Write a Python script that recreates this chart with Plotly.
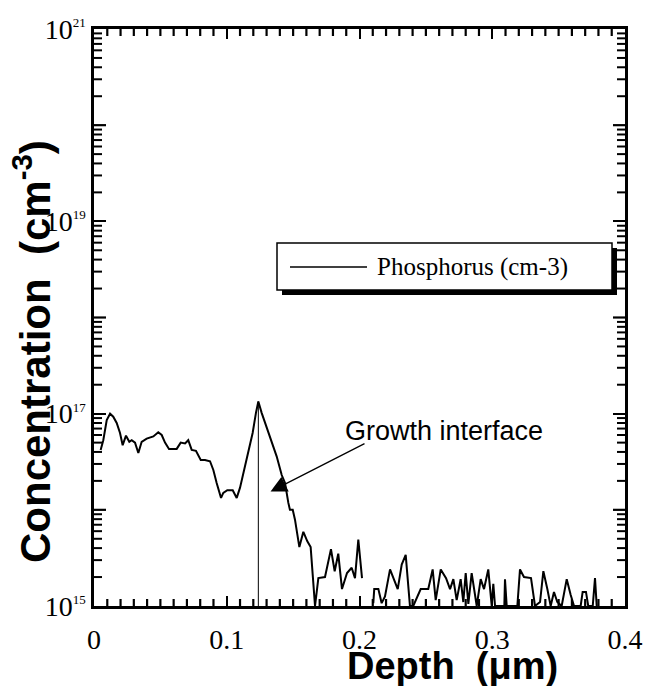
import numpy as np
import plotly.graph_objects as go

# ---------------- data ----------------
depth_um = [0.005, 0.007, 0.0096, 0.0121, 0.0145, 0.0171, 0.0196, 0.0216, 0.0241, 0.0266,
            0.0284, 0.0309, 0.0334, 0.0359, 0.0397, 0.0447, 0.0484, 0.0510, 0.0535, 0.0565,
            0.0623, 0.0653, 0.0686, 0.0710, 0.0736, 0.0768, 0.0804, 0.0836, 0.0874, 0.0899,
            0.0924, 0.0957, 0.0974, 0.1004, 0.1045, 0.1075, 0.1100, 0.1130, 0.1162, 0.1195,
            0.1220, 0.1238, 0.1263, 0.1301, 0.1339, 0.1376, 0.1414, 0.1439, 0.1464, 0.1476,
            0.1497, 0.1514, 0.1547, 0.1577, 0.1607, 0.1632, 0.1665, 0.1690, 0.1740, 0.1785,
            0.1813, 0.1840, 0.1868, 0.1906, 0.1941, 0.1966, 0.1991, 0.2019, 0.2060,
            0.2104, 0.2111, 0.2142, 0.2167, 0.2192, 0.2230, 0.2288, 0.2318, 0.2348, 0.2380,
            0.2405, 0.2461, 0.2518, 0.2551, 0.2574, 0.2612, 0.2652, 0.2682, 0.2707, 0.2732,
            0.2762, 0.2782, 0.2800, 0.2820, 0.2845, 0.2883, 0.2913, 0.2938, 0.2970, 0.2996,
            0.3008, 0.3021, 0.3091, 0.3096, 0.3109, 0.3189, 0.3209, 0.3239, 0.3292, 0.3322,
            0.3360, 0.3385, 0.3415, 0.3440, 0.3465, 0.3490, 0.3523, 0.3561, 0.3591, 0.3616,
            0.3666, 0.3681, 0.3706, 0.3723, 0.3757, 0.3774, 0.3787]
phosphorus_cm3 = [4.2e16, 5.3e16, 8.6e16, 1.0e17, 9.3e16, 8.0e16, 6.3e16, 4.7e16, 5.9e16, 5.1e16,
                  5.3e16, 5.0e16, 3.9e16, 5.1e16, 5.5e16, 5.8e16, 6.4e16, 6.0e16, 5.0e16, 4.3e16,
                  4.3e16, 5.0e16, 4.9e16, 5.3e16, 4.2e16, 4.1e16, 3.3e16, 3.3e16, 3.2e16, 2.6e16,
                  1.9e16, 1.33e16, 1.5e16, 1.6e16, 1.6e16, 1.33e16, 1.7e16, 2.6e16, 3.9e16, 6.3e16,
                  1.02e17, 1.34e17, 1.02e17, 7.3e16, 5.1e16, 3.6e16, 2.3e16, 1.9e16, 1.18e16, 1.0e16,
                  1.0e16, 7.9e15, 4.1e15, 5.9e15, 4.7e15, 4.1e15, 1.0e15, 1.95e15, 2.0e15, 3.9e15,
                  2.3e15, 3.5e15, 1.5e15, 2.2e15, 2.5e15, 1.95e15, 4.9e15, 1.95e15, None,
                  1.07e15, 1.5e15, 1.5e15, 1.07e15, 1.26e15, 2.4e15, 1.5e15, 2.7e15, 3.4e15, 1.0e15,
                  1.0e15, 1.5e15, 1.5e15, 2.4e15, 1.15e15, 2.4e15, 1.95e15, 1.5e15, 1.9e15, 1.15e15,
                  1.9e15, 1.1e15, 2.2e15, 1.05e15, 2.2e15, 1.0e15, 1.9e15, 1.5e15, 2.4e15, 1.0e15,
                  1.7e15, 1.0e15, 1.0e15, 1.9e15, 1.0e15, 1.0e15, 2.4e15, 2.0e15, 1.95e15, 1.0e15,
                  1.1e15, 2.3e15, 1.5e15, 1.0e15, 1.4e15, 1.1e15, 1.0e15, 1.9e15, 1.3e15, 1.0e15,
                  1.0e15, 1.4e15, 1.4e15, 1.0e15, 1.0e15, 1.95e15, 1.0e15]

interface_depth = [0.1238, 0.1238]
interface_conc = [1.34e17, 1.0e15]

arrow_tip = (0.1330, 1.55e16)      # depth, concentration
arrow_tail = (0.2049, 4.97e16)
label_pos = (0.2637, 6.6e16)

x_tick_vals = [0, 0.1, 0.2, 0.3, 0.4]
x_tick_text = ["0", "0.1", "0.2", "0.3", "0.4"]
y_label_exps = [15, 17, 19, 21]
y_unlabeled_exps = [16, 18, 20]
y_range_exp = [15, 21]
x_range = [0, 0.4]

# ---------------- layout geometry (pixels) ----------------
W, H = 655, 686
L, R, T, B = 94, 625, 29, 606
pw, ph = R - L, B - T


def px(xp):
    return (xp - L) / pw


def py(yp):
    return 1 - (yp - T) / ph


serif = "Liberation Serif, Times New Roman, serif"
sans = "Liberation Sans, Arial, Helvetica, sans-serif"

fig = go.Figure()
fig.add_trace(go.Scatter(x=depth_um, y=phosphorus_cm3, mode="lines", name="Phosphorus (cm-3)",
                         line=dict(color="black", width=2), connectgaps=False, showlegend=False))
fig.add_trace(go.Scatter(x=interface_depth, y=interface_conc, mode="lines",
                         line=dict(color="black", width=1), showlegend=False, hoverinfo="skip"))

# ---- minor / unlabeled tick marks (axis decoration, converted from pixel lengths) ----
x_per_px = (x_range[1] - x_range[0]) / pw
dec_per_px = (y_range_exp[1] - y_range_exp[0]) / ph


def tick_trace(xs, ys, width):
    return go.Scatter(x=xs, y=ys, mode="lines", line=dict(color="black", width=width, simplify=False),
                      showlegend=False, hoverinfo="skip", cliponaxis=False)


# x minor ticks every 0.01, bottom and top
mx, my = [], []
for i in range(1, 40):
    if i % 10 == 0:
        continue
    v = i / 100
    mx += [v, v, None, v, v, None]
    my += [10.0 ** y_range_exp[0], 10.0 ** (y_range_exp[0] + 7 * dec_per_px), None,
           10.0 ** y_range_exp[1], 10.0 ** (y_range_exp[1] - 7 * dec_per_px), None]
fig.add_trace(tick_trace(mx, my, 2.2))

# y minor ticks 2..9 x 10^n, left and right
yx, yy = [], []
for n in range(y_range_exp[0], y_range_exp[1]):
    for k in range(2, 10):
        v = k * 10.0 ** n
        yx += [x_range[0], x_range[0] + 8 * x_per_px, None, x_range[1], x_range[1] - 8 * x_per_px, None]
        yy += [v, v, None, v, v, None]
fig.add_trace(tick_trace(yx, yy, 2))

# unlabeled decade ticks, left and right
dx, dy = [], []
for e in y_unlabeled_exps:
    v = 10.0 ** e
    dx += [x_range[0], x_range[0] + 12 * x_per_px, None, x_range[1], x_range[1] - 12 * x_per_px, None]
    dy += [v, v, None, v, v, None]
fig.add_trace(tick_trace(dx, dy, 2.2))

tickfont = dict(family=serif, size=28, color="black")
common = dict(showgrid=False, zeroline=False)

fig.update_layout(
    xaxis=dict(range=x_range, tickmode="array", tickvals=x_tick_vals, ticktext=x_tick_text,
               ticks="inside", ticklen=10, tickwidth=2.2, tickcolor="black",
               showline=True, linewidth=2.5, linecolor="black", mirror="ticks",
               ticklabelstandoff=7, tickfont=tickfont, **common),
    yaxis=dict(type="log", range=y_range_exp, tickmode="array",
               tickvals=[10.0 ** e for e in y_label_exps],
               ticktext=["10<sup><span style='font-size:13px'>%d</span></sup>" % e for e in y_label_exps],
               ticks="inside", ticklen=12, tickwidth=2.2, tickcolor="black",
               showline=True, linewidth=2.5, linecolor="black", mirror="ticks",
               ticklabelstandoff=0, tickfont=tickfont, **common),
)

shapes = [
    # legend shadow + box
    dict(type="rect", xref="paper", yref="paper", x0=px(282), x1=px(617), y0=py(295), y1=py(248),
         fillcolor="black", line=dict(width=0), layer="above"),
    dict(type="rect", xref="paper", yref="paper", x0=px(277), x1=px(612), y0=py(290), y1=py(243),
         fillcolor="white", line=dict(color="black", width=1.5), layer="above"),
    dict(type="line", xref="paper", yref="paper", x0=px(290), x1=px(367), y0=py(267), y1=py(267),
         line=dict(color="black", width=1.5), layer="above"),
]

annotations = [
    dict(xref="paper", yref="paper", x=px(375), y=py(267), text="Phosphorus (cm-3)",
         showarrow=False, xanchor="left", yanchor="middle",
         font=dict(family=serif, size=25, color="black")),
    dict(x=label_pos[0], y=np.log10(label_pos[1]), xref="x", yref="y", text="Growth interface",
         showarrow=False, xanchor="center", yanchor="middle",
         font=dict(family=sans, size=27, color="black")),
    dict(x=arrow_tip[0], y=np.log10(arrow_tip[1]), xref="x", yref="y",
         ax=arrow_tail[0], ay=np.log10(arrow_tail[1]), axref="x", ayref="y",
         text="", showarrow=True, arrowhead=2, arrowsize=2.5, arrowwidth=1.3, arrowcolor="black"),
    dict(xref="paper", yref="paper", x=px(452), y=py(666), text="<b>Depth\u00a0\u00a0(\u03bcm)</b>",
         showarrow=False, xanchor="center", yanchor="middle",
         font=dict(family=sans, size=38, color="black")),
    dict(xref="paper", yref="paper", x=px(32), y=py(352),
         text="<b>Concentration\u00a0\u00a0(cm<sup>-3</sup>)</b>",
         showarrow=False, xanchor="center", yanchor="middle", textangle=-90,
         font=dict(family=sans, size=42, color="black")),
]

fig.update_layout(width=W, height=H, margin=dict(l=L, r=W - R, t=T, b=H - B),
                  paper_bgcolor="white", plot_bgcolor="white", showlegend=False,
                  shapes=shapes, annotations=annotations)

fig.write_html("out.html")
